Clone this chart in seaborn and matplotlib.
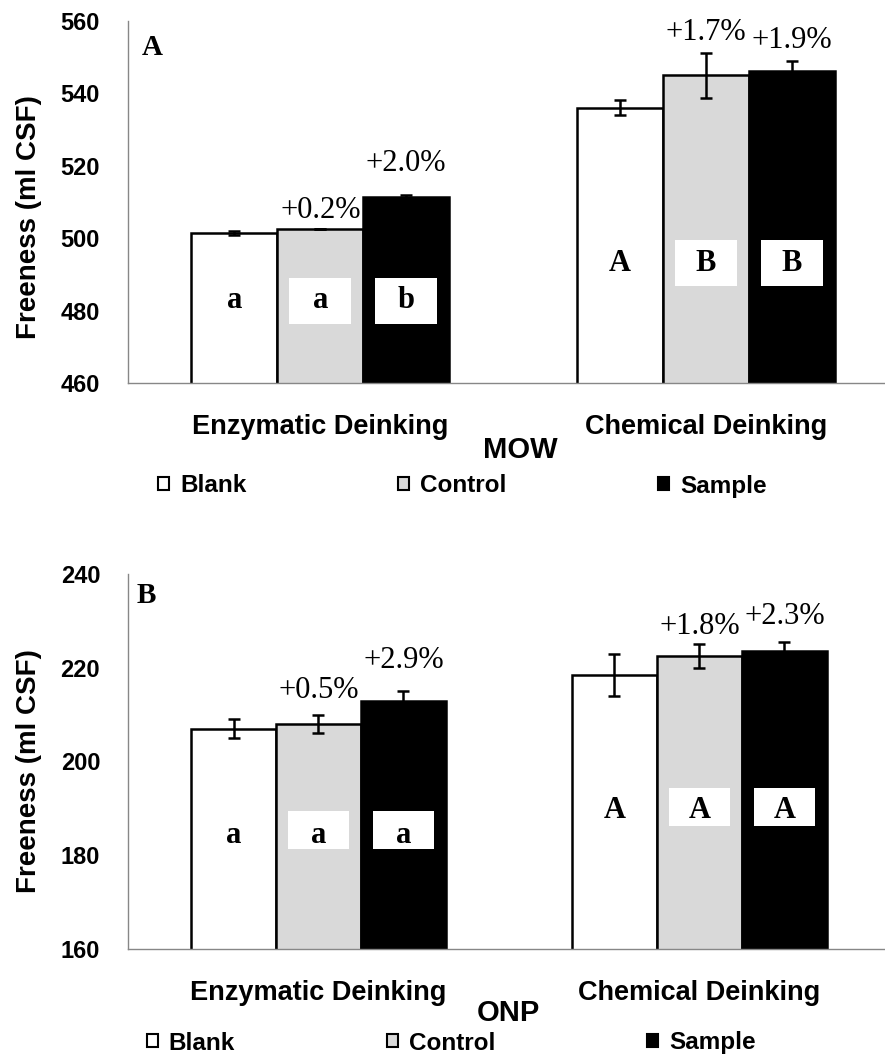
import numpy as np
import pandas as pd
import matplotlib
matplotlib.use("Agg")
import matplotlib.pyplot as plt
from matplotlib.patches import Patch, Rectangle
import seaborn as sns

# ---------- data ----------
processes = ["Enzymatic Deinking", "Chemical Deinking"]
treatments = ["Blank", "Control", "Sample"]

mow_blank = [501.4, 536.0]
mow_control = [502.6, 545.0]
mow_sample = [511.4, 546.0]
mow_err_blank = [0.5, 2.1]
mow_err_control = [0.0, 6.2]
mow_err_sample = [0.6, 3.0]
mow_pct = ["", "+0.2%", "+2.0%", "", "+1.7%", "+1.9%"]
mow_letters = ["a", "a", "b", "A", "B", "B"]

onp_blank = [207.0, 218.4]
onp_control = [208.0, 222.5]
onp_sample = [213.0, 223.6]
onp_err_blank = [2.1, 4.5]
onp_err_control = [2.0, 2.6]
onp_err_sample = [2.0, 1.9]
onp_pct = ["", "+0.5%", "+2.9%", "", "+1.8%", "+2.3%"]
onp_letters = ["a", "a", "a", "A", "A", "A"]

colors = ["white", "#d9d9d9", "black"]


def long_df(blank, control, sample, eb, ec, es):
    rows = []
    for t, vals, errs in zip(treatments, [blank, control, sample], [eb, ec, es]):
        for p, v, e in zip(processes, vals, errs):
            rows.append({"process": p, "treatment": t, "freeness": v, "err": e})
    return pd.DataFrame(rows)


df_mow = long_df(mow_blank, mow_control, mow_sample,
                 mow_err_blank, mow_err_control, mow_err_sample)
df_onp = long_df(onp_blank, onp_control, onp_sample,
                 onp_err_blank, onp_err_control, onp_err_sample)

sns.set_theme(style="white")
plt.rcParams["font.family"] = ["Liberation Sans", "DejaVu Sans"]
plt.rcParams.update({"text.color": "black", "axes.labelcolor": "black",
                     "xtick.color": "black", "ytick.color": "black"})
SERIF = "Liberation Serif"
SPINE = "#878787"

fig = plt.figure(figsize=(8.85, 10.57), dpi=100)


def panel(rect, df, ylim, xright, pct, pct_y, letters, letter_y, box_y, box_h,
          tag, tag_xy, xlabel, xlabel_xy, ylabel_xy, legend_xy):
    ax = fig.add_axes(rect)
    sns.barplot(data=df, x="process", y="freeness", hue="treatment",
                order=processes, hue_order=treatments, palette=colors,
                edgecolor="black", linewidth=1.8, width=0.669, gap=0,
                errorbar=None, legend=False, ax=ax)
    ax.set_ylim(*ylim)
    ax.set_xlim(-0.5, xright)

    # bar centres per (process, treatment)
    centres = {}
    for t, cont in zip(treatments, ax.containers):
        for p, bar in zip(processes, cont.patches):
            centres[(p, t)] = (bar.get_x() + bar.get_width() / 2, bar.get_height())

    k = 0
    for p in processes:
        for t in treatments:
            x, h = centres[(p, t)]
            e = df[(df.process == p) & (df.treatment == t)]["err"].iloc[0]
            ax.errorbar(x, h, yerr=e, fmt="none", ecolor="black",
                        elinewidth=1.8, capsize=4, capthick=1.8, zorder=5)
            if pct[k]:
                ax.text(x, pct_y[k], pct[k], ha="center", va="baseline",
                        fontsize=22, family=SERIF, zorder=6)
            if t != "Blank":
                ax.add_patch(Rectangle((x - 0.08, box_y[k // 3] - box_h / 2),
                                       0.16, box_h, facecolor="white",
                                       edgecolor="none", zorder=6))
            ax.text(x, letter_y[k // 3], letters[k], ha="center", va="baseline",
                    fontsize=22, family=SERIF, fontweight="bold", zorder=7)
            k += 1

    ax.text(tag_xy[0], tag_xy[1], tag, transform=ax.transAxes, fontsize=21,
            family=SERIF, fontweight="bold", va="baseline", ha="left")

    for s in ["top", "right"]:
        ax.spines[s].set_visible(False)
    for s in ["left", "bottom"]:
        ax.spines[s].set_color(SPINE)
        ax.spines[s].set_linewidth(1.0)

    ax.set_yticks(np.arange(ylim[0], ylim[1] + 1, 20))
    ax.tick_params(axis="y", length=6, width=1, color=SPINE, direction="out",
                   pad=14, labelsize=17)
    for lb in ax.get_yticklabels():
        lb.set_fontweight("bold")
    ax.set_xticks([0, 1])
    ax.set_xticklabels(processes, fontsize=19.5, fontweight="bold")
    ax.tick_params(axis="x", length=0, pad=22)
    ax.set_xticks([0.5], minor=True)
    ax.tick_params(axis="x", which="minor", length=6, width=1, color=SPINE,
                   direction="out")

    ax.set_ylabel("Freeness (ml CSF)", fontsize=20, fontweight="bold")
    ax.yaxis.set_label_coords(*ylabel_xy)
    ax.set_xlabel(xlabel, fontsize=21, fontweight="bold")
    ax.xaxis.set_label_coords(*xlabel_xy)

    handles = [Patch(facecolor=c, edgecolor="black", linewidth=1.5) for c in colors]
    fig.legend(handles, treatments, loc="center left", bbox_to_anchor=legend_xy,
               ncol=3, frameon=False, borderpad=0, borderaxespad=0,
               handlelength=0.45, handleheight=0.45, handletextpad=0.45,
               columnspacing=6.25, prop={"size": 17.5, "weight": "bold"})
    return ax


panel([0.1441, 0.6377, 0.8559, 0.3427], df_mow, (460, 560), 1.465,
      mow_pct, [0, 505.6, 518.4, 0, 554.7, 552.4],
      mow_letters, [480.8, 490.9], [482.7, 493.2], 12.7,
      "A", (0.019, 0.905), "MOW", (0.518, -0.146), (-0.113, 0.458),
      (158 / 885, 1 - 486 / 1057))

panel([0.1446, 0.1022, 0.8554, 0.3548], df_onp, (160, 240), 1.487,
      onp_pct, [0, 213.5, 219.9, 0, 227.2, 229.3],
      onp_letters, [182.7, 187.9], [185.3, 190.3], 8.1,
      "B", (0.012, 0.923), "ONP", (0.502, -0.133), (-0.114, 0.475),
      (147 / 885, 1 - 1043 / 1057))

fig.savefig("out.png", dpi=100)
